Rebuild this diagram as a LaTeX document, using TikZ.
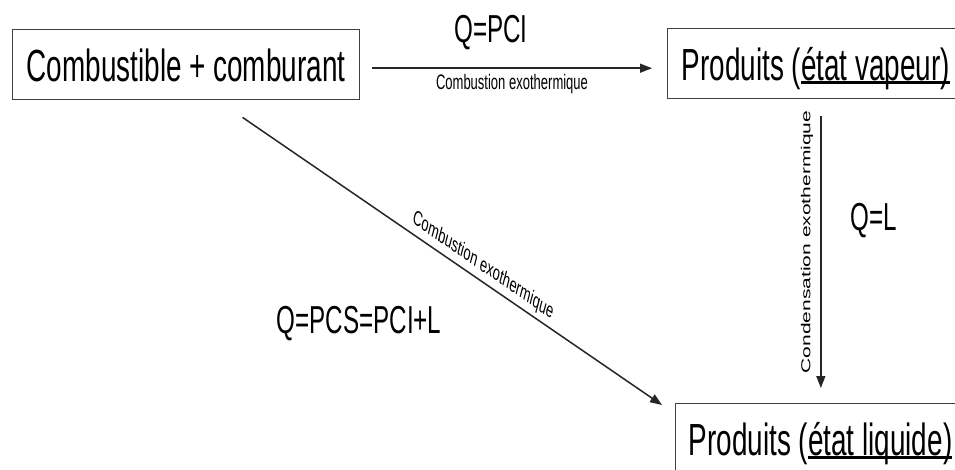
\documentclass[tikz,border=0pt]{standalone}
\usepackage{fontspec}
\setmainfont{Liberation Sans}
\newfontfamily\sq{Liberation Sans}[FakeStretch=0.62]
\usetikzlibrary{arrows.meta}
\newsavebox\ulbox
\newcommand\myul[1]{\sbox\ulbox{#1}\rlap{\rule[-3.5pt]{\wd\ulbox}{2.4pt}}\usebox\ulbox}
\begin{document}
\begin{tikzpicture}[x=1pt,y=-1pt,
  box/.style={draw=black!75, line width=1.4pt, inner xsep=14pt, inner ysep=0pt,
    minimum height=70pt, text height=33pt, text depth=0pt, anchor=north west,
    font=\sq\fontsize{45}{50}\selectfont},
  arr/.style={line width=1.5pt, draw=black!85, -{Triangle[length=12pt,width=9pt]}},
  lab/.style={font=\sq\fontsize{39}{42}\selectfont, anchor=base},
  small/.style={font=\sq\fontsize{21}{24}\selectfont, anchor=base},
  rsmall/.style={font=\fontsize{21}{24}\selectfont}]
\useasboundingbox (0,0) rectangle (955,469);
\fill[white] (0,0) rectangle (955,469);
\clip (0,0) rectangle (955,469);
\node[box] (A) at (12,29) {Combustible + comburant};
\node[box] (B) at (667,28) {Produits (\myul{état vapeur)}};
\node[box, inner xsep=13pt] (C) at (675,403) {Produits (\myul{état liquide)}};
% connectors
\coordinate (h1) at ([xshift=12pt,yshift=-3.5pt]A.east);
\draw[arr, shorten >=15pt] (h1) -- (h1 -| B.west);
\coordinate (d1) at ([xshift=56.5pt,yshift=-17pt]A.south);
\coordinate (d2) at ([xshift=-13pt,yshift=-2pt]C.north west);
\draw[arr] (d1) -- (d2);
\coordinate (v1) at ([xshift=5pt,yshift=-17pt]B.south);
\draw[arr, shorten >=15pt] (v1) -- (v1 |- C.north);
% labels
\node[lab] (q1) at (491,42) {Q=PCI};
\node[small] (c1) at (512,89) {Combustion exothermique};
\node[lab] (q2) at (874,230) {Q=L};
\node[lab] (q3) at (359,333) {Q=PCS=PCI+L};
\node[rsmall, xscale=0.62, rotate=90] (c2) at (807,242) {Condensation exothermique};
\node[rsmall, xscale=0.62, rotate=-23.2] (c3) at (483,266) {Combustion exothermique};
\end{tikzpicture}
\end{document}
